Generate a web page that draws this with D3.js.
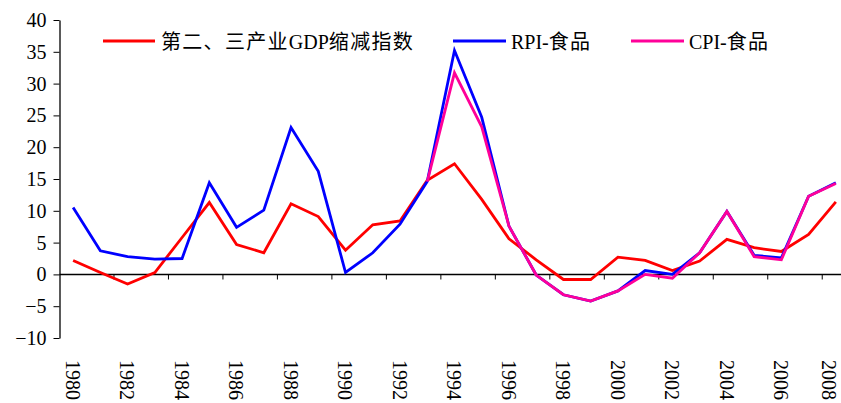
<!DOCTYPE html>
<html>
<head>
<meta charset="utf-8">
<script src="https://cdn.jsdelivr.net/npm/d3@7"></script>
<style>
  html, body { margin: 0; padding: 0; background: #fff; }
  svg { display: block; }
  text { font-family: "Liberation Serif", "Noto Sans CJK SC", serif; fill: #000; }
</style>
</head>
<body>
<svg id="chart" width="841" height="403"></svg>
<script>
const years = d3.range(1980, 2009);
const yTicks = [-10, -5, 0, 5, 10, 15, 20, 25, 30, 35, 40];
const seriesNames = ["第二、三产业GDP缩减指数", "RPI-食品", "CPI-食品"];
const gdpDeflator = [2.2, 0.3, -1.5, 0.3, 5.8, 11.3, 4.7, 3.4, 11.1, 9.1, 3.8, 7.8, 8.4, 14.8, 17.4, 11.8, 5.6, 2.3, -0.8, -0.8, 2.7, 2.2, 0.6, 2.1, 5.5, 4.2, 3.6, 6.3, 11.4];
const rpiFood = [10.5, 3.7, 2.8, 2.4, 2.5, 14.4, 7.4, 10.1, 23.1, 16.2, 0.3, 3.4, 7.9, 14.6, 35.2, 24.7, 7.6, -0.1, -3.2, -4.2, -2.6, 0.6, 0.0, 3.4, 9.9, 3.0, 2.6, 12.3, 14.4];
const cpiFood = [null, null, null, null, null, null, null, null, null, null, null, null, null, 14.6, 31.7, 23.2, 7.6, -0.1, -3.2, -4.2, -2.6, 0.0, -0.6, 3.4, 9.9, 2.8, 2.3, 12.3, 14.3];
const colors = ["#ff0000", "#0000ff", "#ff0099"];

const svg = d3.select("#chart");
const left = 59.5, step = 27.24;
const x = d3.scaleBand().domain(years).range([left, left + step * years.length]).padding(0);
const y = d3.scaleLinear().domain([-10, 40]).range([338, 20]);

// Y axis
const yAxis = d3.axisLeft(y).tickValues(yTicks).tickSize(6).tickSizeOuter(0).tickPadding(7).tickFormat(d3.format("d"));
const gy = svg.append("g").attr("transform", `translate(${left},0)`).call(yAxis);
gy.select(".domain").attr("stroke", "#000").attr("stroke-width", 1.3);
gy.selectAll(".tick line").attr("stroke", "#000").attr("stroke-width", 1);
gy.selectAll(".tick text").style("font-size", "20px").style("font-family", "'Liberation Serif', serif").attr("fill", "#000");

// X axis at zero
const y0 = Math.round(y(0)) + 0.5;
svg.append("line").attr("x1", left).attr("x2", 841).attr("y1", y0).attr("y2", y0)
  .attr("stroke", "#000").attr("stroke-width", 1.3);
const evenYears = years.filter((d, i) => i % 2 === 0);
svg.selectAll(".xtick").data(evenYears.slice(1)).enter().append("line")
  .attr("x1", d => x(d)).attr("x2", d => x(d))
  .attr("y1", y0).attr("y2", y0 + 5).attr("stroke", "#000").attr("stroke-width", 1);
svg.selectAll(".xlabel").data(evenYears).enter().append("text")
  .attr("transform", d => `translate(${Math.min(x(d) + x.bandwidth() / 2 - 0.5, 829)},360) rotate(90)`)
  .attr("text-anchor", "start").attr("dy", "0.33em")
  .style("font-size", "20px").text(d => d);

// Lines
const allSeries = [gdpDeflator, rpiFood, cpiFood];
const line = d3.line()
  .defined(d => d.v !== null)
  .x(d => x(d.year) + x.bandwidth() / 2)
  .y(d => y(d.v));
allSeries.forEach((vals, i) => {
  svg.append("path")
    .datum(years.map((yr, j) => ({ year: yr, v: vals[j] })))
    .attr("fill", "none").attr("stroke", colors[i]).attr("stroke-width", 2.8)
    .attr("stroke-linejoin", "miter").attr("d", line);
});

// Legend
const legendPos = [{ x1: 103, x2: 155, tx: 161 }, { x1: 453, x2: 506, tx: 511 }, { x1: 631, x2: 684, tx: 689 }];
seriesNames.forEach((name, i) => {
  const p = legendPos[i];
  svg.append("line").attr("x1", p.x1).attr("x2", p.x2).attr("y1", 41).attr("y2", 41)
    .attr("stroke", colors[i]).attr("stroke-width", 2.8);
  const t = svg.append("text").attr("x", p.tx).attr("y", 49).style("font-size", "20px");
  const runs = name.match(/[\u3000-\u9fff]+|[^\u3000-\u9fff]+/g);
  runs.forEach(r => {
    const cjk = /[\u3000-\u9fff]/.test(r);
    t.append("tspan").style("letter-spacing", cjk ? "1.3px" : "0px").text(r);
  });
});
</script>
</body>
</html>
